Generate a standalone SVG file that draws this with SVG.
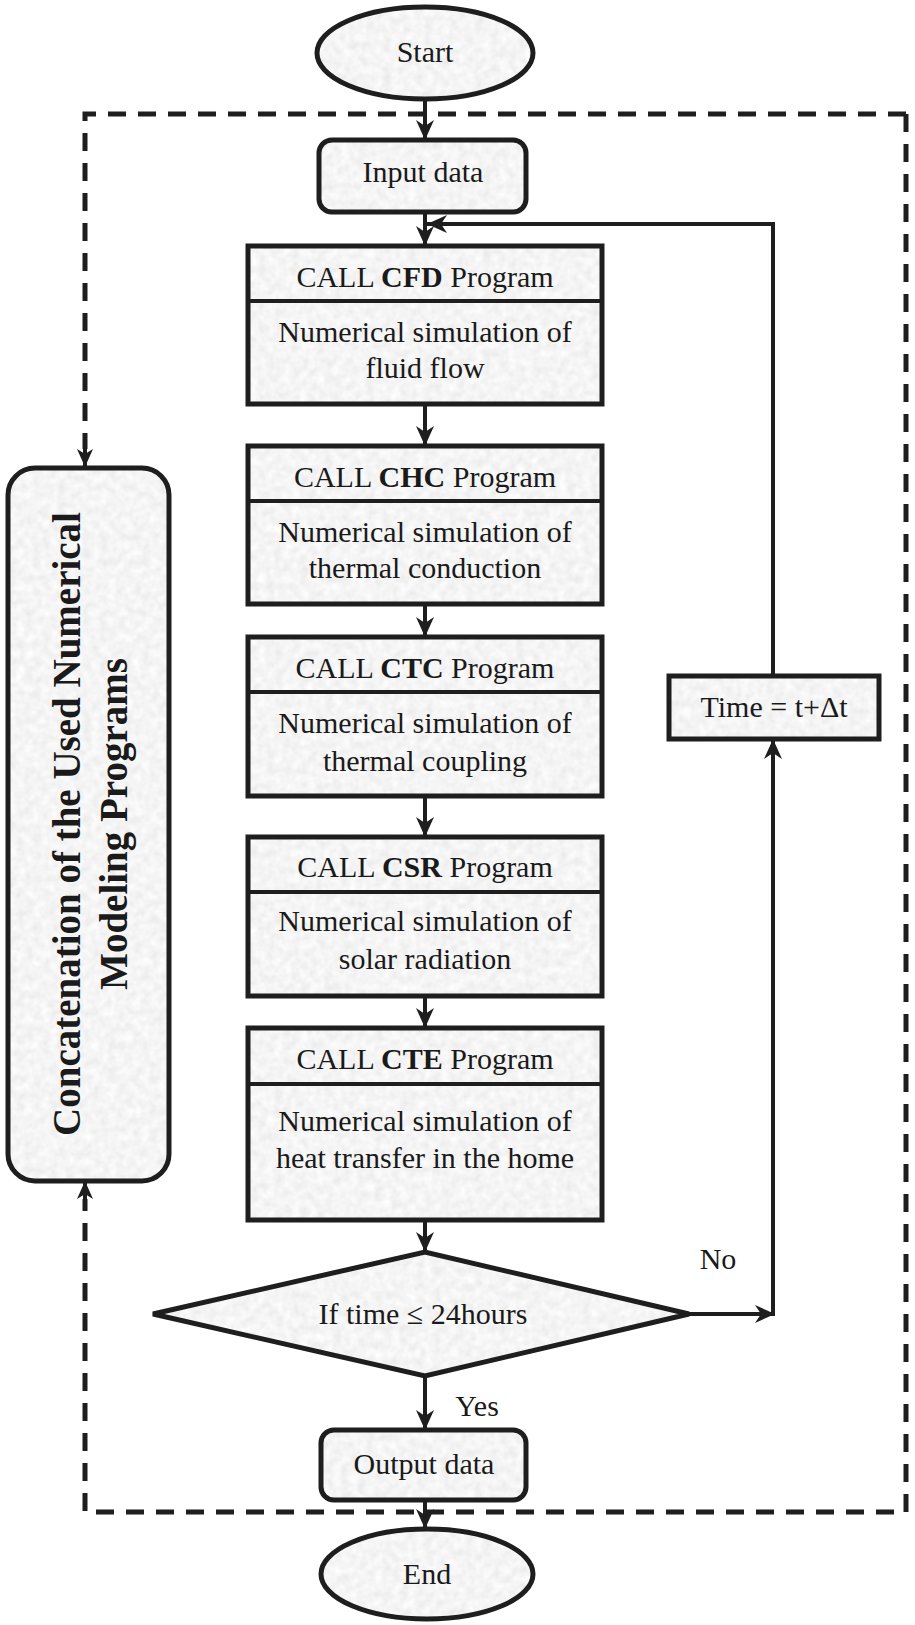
<svg xmlns="http://www.w3.org/2000/svg" width="915" height="1625" viewBox="0 0 915 1625">
<style>
.n{fill:url(#tex);stroke:#1e1e1e;stroke-width:5}
.t{font-family:"Liberation Serif","Times New Roman",serif;font-size:30px;fill:#1a1a1a;text-anchor:middle}
.b{font-weight:bold}
.c{fill:none;stroke:#1e1e1e;stroke-width:4}
.d{fill:none;stroke:#1e1e1e;stroke-width:5;stroke-dasharray:18 12}
.lt{font-family:"Liberation Serif","Times New Roman",serif;font-size:39px;font-weight:bold;fill:#1a1a1a;text-anchor:middle}
</style>
<defs>
<filter id="noise" x="0" y="0" width="1" height="1" filterUnits="objectBoundingBox">
<feTurbulence type="fractalNoise" baseFrequency="0.12" numOctaves="2" seed="4" result="tb"/>
<feColorMatrix in="tb" type="matrix" values="0.22 0 0 0 0.8  0.22 0 0 0 0.8  0.22 0 0 0 0.8  0 0 0 0 1"/>
</filter>
<pattern id="tex" patternUnits="userSpaceOnUse" x="0" y="0" width="915" height="1625">
<rect width="915" height="1625" fill="#e8e8e8"/>
<rect width="915" height="1625" filter="url(#noise)"/>
</pattern>
<marker id="ah" markerWidth="20" markerHeight="18" refX="20" refY="9" orient="auto" markerUnits="userSpaceOnUse" viewBox="0 0 20 18">
<path d="M0,0 L20,9 L0,18 L6,9 Z" fill="#1e1e1e"/>
</marker>
<marker id="ahs" markerWidth="18" markerHeight="16" refX="18" refY="8" orient="auto" markerUnits="userSpaceOnUse" viewBox="0 0 18 16">
<path d="M0,0 L18,8 L0,16 L5,8 Z" fill="#1e1e1e"/>
</marker>
</defs>
<rect width="915" height="1625" fill="#ffffff"/>

<g id="connectors">
<path class="d" d="M906,114 H85 V449" />
<path class="d" d="M906,114 V1512 H85 V1199" />
<path d="M85,449 V467" class="c" stroke-width="3" marker-end="url(#ahs)"/>
<path d="M85,1199 V1181" class="c" stroke-width="3" marker-end="url(#ahs)"/>
<path class="c" d="M425,99 V140" marker-end="url(#ah)"/>
<path class="c" d="M425,212 V246" marker-end="url(#ah)"/>
<path class="c" d="M773,676 V224 H427" marker-end="url(#ah)"/>
<path class="c" d="M425,404 V446" marker-end="url(#ah)"/>
<path class="c" d="M425,604 V637" marker-end="url(#ah)"/>
<path class="c" d="M425,796 V837" marker-end="url(#ah)"/>
<path class="c" d="M425,996 V1028" marker-end="url(#ah)"/>
<path class="c" d="M425,1220 V1252" marker-end="url(#ah)"/>
<path class="c" d="M425,1376 V1430" marker-end="url(#ah)"/>
<path class="c" d="M689,1314 H775" marker-end="url(#ah)"/>
<path class="c" d="M773,1314 V739" marker-end="url(#ah)"/>
<path class="c" d="M425,1500 V1529" marker-end="url(#ah)"/>
<text class="t" x="718" y="1269">No</text>
<text class="t" x="477" y="1416">Yes</text>
</g>

<g id="start">
<ellipse class="n" cx="425" cy="53" rx="108" ry="46"/>
<text class="t" x="425" y="62">Start</text>
</g>

<g id="input">
<rect class="n" x="319" y="140" width="207" height="72" rx="13"/>
<text class="t" x="423" y="182">Input data</text>
</g>

<g id="cfd">
<rect class="n" x="248" y="246" width="354" height="158"/>
<line class="c" x1="248" y1="301" x2="602" y2="301" stroke-width="5"/>
<text class="t" x="425" y="287">CALL <tspan class="b">CFD</tspan> Program</text>
<text class="t" x="425" y="342">Numerical simulation of</text>
<text class="t" x="425" y="378">fluid flow</text>
</g>

<g id="chc">
<rect class="n" x="248" y="446" width="354" height="158"/>
<line class="c" x1="248" y1="501" x2="602" y2="501" stroke-width="5"/>
<text class="t" x="425" y="487">CALL <tspan class="b">CHC</tspan> Program</text>
<text class="t" x="425" y="542">Numerical simulation of</text>
<text class="t" x="425" y="578">thermal conduction</text>
</g>

<g id="ctc">
<rect class="n" x="248" y="637" width="354" height="159"/>
<line class="c" x1="248" y1="692" x2="602" y2="692" stroke-width="5"/>
<text class="t" x="425" y="678">CALL <tspan class="b">CTC</tspan> Program</text>
<text class="t" x="425" y="733">Numerical simulation of</text>
<text class="t" x="425" y="771">thermal coupling</text>
</g>

<g id="csr">
<rect class="n" x="248" y="837" width="354" height="159"/>
<line class="c" x1="248" y1="892" x2="602" y2="892" stroke-width="5"/>
<text class="t" x="425" y="877">CALL <tspan class="b">CSR</tspan> Program</text>
<text class="t" x="425" y="931">Numerical simulation of</text>
<text class="t" x="425" y="969">solar radiation</text>
</g>

<g id="cte">
<rect class="n" x="248" y="1028" width="354" height="192"/>
<line class="c" x1="248" y1="1084" x2="602" y2="1084" stroke-width="5"/>
<text class="t" x="425" y="1069">CALL <tspan class="b">CTE</tspan> Program</text>
<text class="t" x="425" y="1131">Numerical simulation of</text>
<text class="t" x="425" y="1168">heat transfer in the home</text>
</g>

<g id="decision">
<polygon class="n" points="153,1314 425,1252 689,1314 425,1376"/>
<text class="t" x="423" y="1324">If time ≤ 24hours</text>
</g>

<g id="time">
<rect class="n" x="669" y="676" width="210" height="63"/>
<text class="t" x="774" y="717">Time = t+Δt</text>
</g>

<g id="output">
<rect class="n" x="321" y="1430" width="205" height="70" rx="13"/>
<text class="t" x="424" y="1474">Output data</text>
</g>

<g id="end">
<ellipse class="n" cx="427" cy="1574" rx="106" ry="45"/>
<text class="t" x="427" y="1584">End</text>
</g>

<g id="concat">
<rect class="n" x="8" y="468" width="161" height="713" rx="27"/>
<text class="lt" transform="translate(80,824) rotate(-90)">Concatenation of the Used Numerical</text>
<text class="lt" transform="translate(127,824) rotate(-90)">Modeling Programs</text>
</g>
</svg>
